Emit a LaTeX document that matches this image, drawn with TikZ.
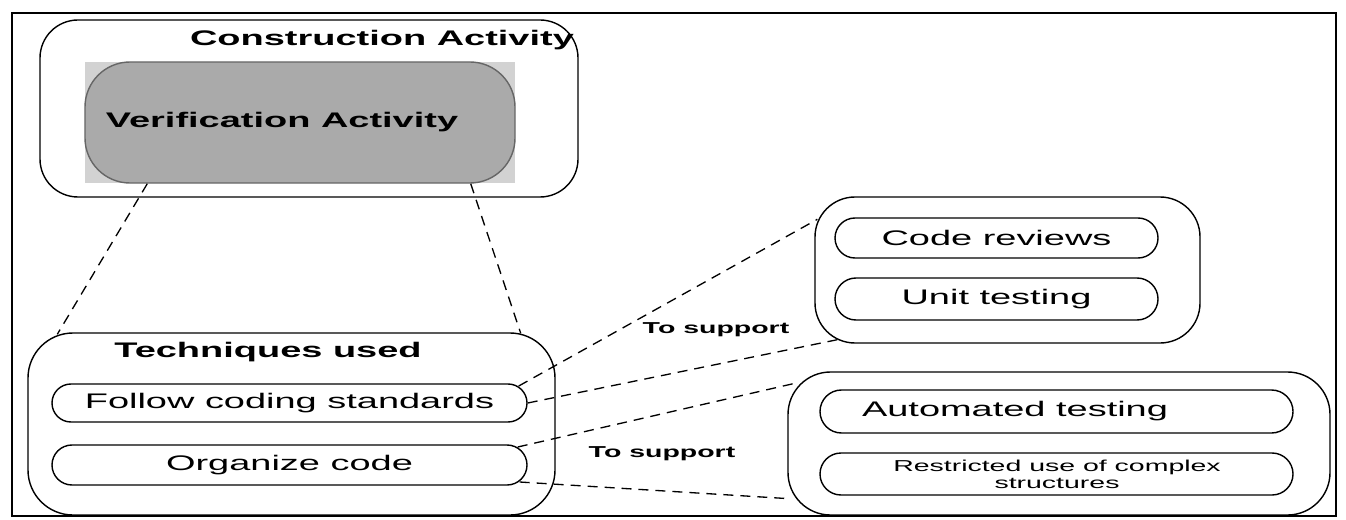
\documentclass[tikz,border=0pt]{standalone}
\usepackage{fontspec}
\setmainfont{Liberation Sans}[FakeStretch=1.8]
\usetikzlibrary{calc, shapes.misc}

\begin{document}
\begin{tikzpicture}[x=0.2mm, y=-0.2mm,
  box/.style={draw, line width=0.8pt, inner sep=0pt},
  pill/.style={draw, rounded rectangle, line width=0.8pt, inner sep=0pt,
    font=\fontsize{12}{14}\selectfont},
  title/.style={font=\bfseries\fontsize{12}{14}\selectfont, inner sep=0pt},
  small/.style={font=\fontsize{9}{9.6}\selectfont, inner sep=0pt},
  link/.style={dash pattern=on 2mm off 1.4mm, line width=0.75pt}]
  \useasboundingbox (0,0) rectangle (1346,519);
  % frame
  \draw[line width=1.6pt] (12,13) rectangle (1336,516);
  % construction and verification
  \node[box, rounded corners=7.6mm, minimum width=107.6mm, minimum height=35.4mm] (cons) at (309,108.5) {};
  \node[title] (constext) at (382,40) {Construction Activity};
  \node[fill=gray!35, inner sep=0pt, minimum width=86mm, minimum height=24.2mm] (verifbg) at (300,122.5) {};
  \node[box, draw=black!60, fill=gray!67, rounded corners=9mm, minimum width=86mm, minimum height=24.2mm] (verif) at (300,122.5) {};
  \node[title] (veriftext) at (282,122) {Verification Activity};
  % techniques used
  \node[box, rounded corners=9mm, minimum width=105.4mm, minimum height=36.4mm] (tech) at (291.5,424) {};
  \node[title] (techtext) at (268,352) {Techniques used};
  \node[pill, minimum width=95mm, minimum height=7.6mm] (follow) at (289.5,403) {Follow coding standards};
  \node[pill, minimum width=95mm, minimum height=8mm] (organize) at (289.5,465) {Organize code};
  % verification methods
  \node[box, rounded corners=8mm, minimum width=77mm, minimum height=29.2mm] (box1) at (1007.5,270) {};
  \node[pill, minimum width=64.6mm, minimum height=8mm] (review) at (996.5,238) {Code reviews};
  \node[pill, minimum width=64.6mm, minimum height=8.4mm] (unit) at (996.5,299) {Unit testing};
  \node[box, rounded corners=8.5mm, minimum width=108.4mm, minimum height=28.6mm] (box2) at (1059,443.5) {};
  \node[pill, minimum width=94.6mm, minimum height=8.6mm] (auto) at (1056.5,411.5) {};
  \node[inner sep=0pt, font=\fontsize{12}{14}\selectfont] (autotext) at (1015,411) {Automated testing};
  \node[pill, minimum width=94.6mm, minimum height=8.4mm] (restrict) at (1056.5,474) {};
  \node[small, align=center] (restricttext) at (1057,474) {Restricted use of complex\\structures};
  % dashed links
  \draw[link] ($(verif.south west)+(63,0)$) -- ($(tech.north west)+(30,2)$);
  \draw[link] ($(verif.south east)+(-45,0)$) -- ($(tech.north east)+(-35,1)$);
  \draw[link] ($(follow.east)+(-9,-17)$) -- ($(box1.north west)+(3,23)$);
  \draw[link] (follow.east) -- ($(box1.south west)+(23,-4)$);
  \draw[link] ($(organize.east)+(-10,-18)$) -- ($(box2.north west)+(12,11)$);
  \draw[link] ($(organize.east)+(-8,17)$) -- ($(box2.south west)+(2,-17)$);
  % labels
  \node[small, font=\bfseries\fontsize{9}{9.6}\selectfont] (support1) at (716,330) {To support};
  \node[small, font=\bfseries\fontsize{9}{9.6}\selectfont] (support2) at (662,454) {To support};
\end{tikzpicture}
\end{document}
